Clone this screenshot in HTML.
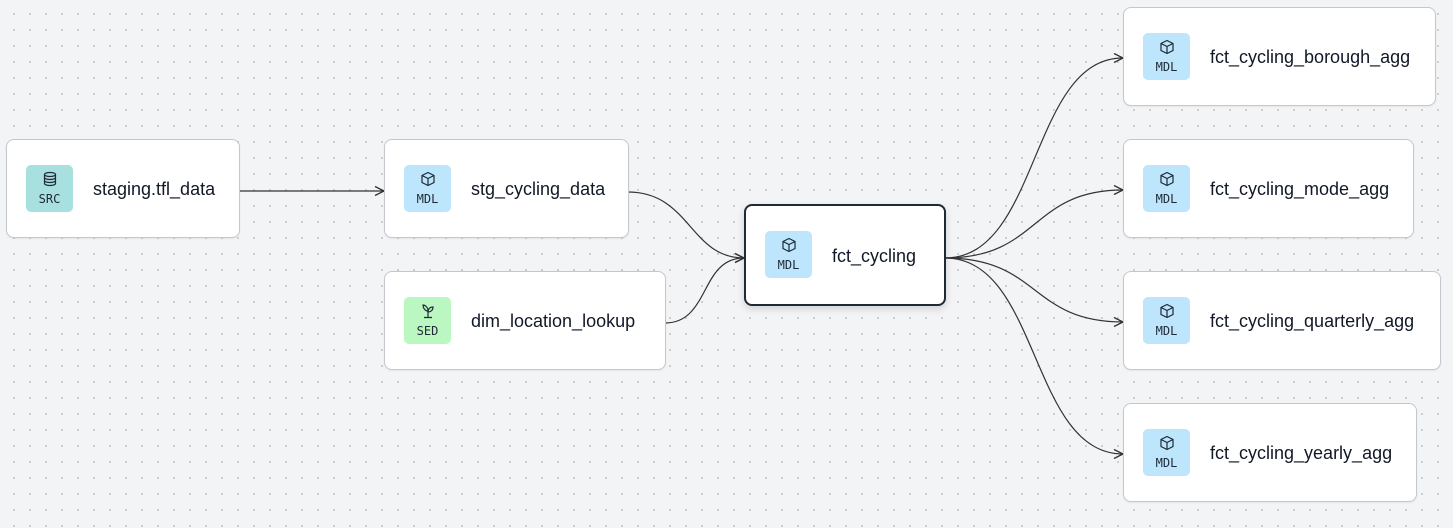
<!DOCTYPE html>
<html><head><style>
body{margin:0;width:1453px;height:528px;overflow:hidden;background:#f3f4f6;
background-image:radial-gradient(circle,#c4c7cc 0.8px,transparent 1.2px);background-size:16px 16px;background-position:6px 6px;
font-family:"Liberation Sans",sans-serif;position:relative}
.n{position:absolute;background:#fff;border:1px solid #c4c7cd;border-radius:8px;box-sizing:border-box;box-shadow:0 1px 2px rgba(0,0,0,.06)}
.b{position:absolute;left:19px;top:25px;width:47px;height:47px;border-radius:5px;display:flex;flex-direction:column;align-items:center;justify-content:center;font-family:"DejaVu Sans Mono","Liberation Mono",monospace;font-size:12px;color:#1f2937}
.b svg{margin-bottom:5px}
.t{position:absolute;left:86px;top:2px;bottom:0;display:flex;align-items:center;font-size:18px;color:#111827}
.mdl{background:#bde5fb}.src{background:#a8e0e0}.sed{background:#bbf7c0}
svg.e{position:absolute;left:0;top:0}
</style></head><body>
<svg class="e" width="1453" height="528">
<defs><marker id="a" markerWidth="12" markerHeight="12" refX="10" refY="6" orient="auto" markerUnits="userSpaceOnUse"><path d="M1,1.5 L10,6 L1,10.5" fill="none" stroke="#333" stroke-width="1.3"/></marker></defs>
<g fill="none" stroke="#333" stroke-width="1.2" marker-end="url(#a)">
<path d="M239,191 L384,191"/>
<path d="M628,192 C690,192 690,258 744,258"/>
<path d="M665,323 C710,323 700,258 744,258"/>
<path d="M945,258 C1040,258 1030,58 1123,58"/>
<path d="M945,258 C1040,258 1030,190 1123,190"/>
<path d="M945,258 C1040,258 1030,322 1123,322"/>
<path d="M945,258 C1040,258 1030,454 1123,454"/>
</g></svg>

<div class="n" style="left:6px;top:139px;width:234px;height:99px">
<div class="b src"><svg width="16" height="16" viewBox="0 0 16 16" fill="none" stroke="#1f2937" stroke-width="1.2"><ellipse cx="8" cy="3.5" rx="5.5" ry="2"/><path d="M2.5 3.5v9c0 1.1 2.5 2 5.5 2s5.5-.9 5.5-2v-9M2.5 6.5c0 1.1 2.5 2 5.5 2s5.5-.9 5.5-2M2.5 9.5c0 1.1 2.5 2 5.5 2s5.5-.9 5.5-2"/></svg>SRC</div>
<div class="t">staging.tfl_data</div></div>

<div class="n" style="left:384px;top:139px;width:245px;height:99px">
<div class="b mdl"><svg width="16" height="16" viewBox="0 0 16 16" fill="none" stroke="#1f2937" stroke-width="1.2"><path d="M8 1.5l6 3v7l-6 3-6-3v-7z M2 4.5l6 3 6-3 M8 7.5v7"/></svg>MDL</div>
<div class="t">stg_cycling_data</div></div>

<div class="n" style="left:384px;top:271px;width:282px;height:99px">
<div class="b sed"><svg width="16" height="16" viewBox="0 0 16 16" fill="none" stroke="#1f2937" stroke-width="1.2"><path d="M8 14V8M8 8C8 4 5 2 3 2c0 3 2 6 5 6zM8 9c0-3 2-5 5-5 0 3-2 5-5 5zM4 14.5h8"/></svg>SED</div>
<div class="t">dim_location_lookup</div></div>

<div class="n" style="left:744px;top:204px;width:202px;height:102px;border:2px solid #1f2937;box-shadow:0 3px 8px rgba(0,0,0,.15)">
<div class="b mdl" style="left:19px;top:25px"><svg width="16" height="16" viewBox="0 0 16 16" fill="none" stroke="#1f2937" stroke-width="1.2"><path d="M8 1.5l6 3v7l-6 3-6-3v-7z M2 4.5l6 3 6-3 M8 7.5v7"/></svg>MDL</div>
<div class="t">fct_cycling</div></div>

<div class="n" style="left:1123px;top:7px;width:313px;height:99px">
<div class="b mdl"><svg width="16" height="16" viewBox="0 0 16 16" fill="none" stroke="#1f2937" stroke-width="1.2"><path d="M8 1.5l6 3v7l-6 3-6-3v-7z M2 4.5l6 3 6-3 M8 7.5v7"/></svg>MDL</div>
<div class="t">fct_cycling_borough_agg</div></div>

<div class="n" style="left:1123px;top:139px;width:291px;height:99px">
<div class="b mdl"><svg width="16" height="16" viewBox="0 0 16 16" fill="none" stroke="#1f2937" stroke-width="1.2"><path d="M8 1.5l6 3v7l-6 3-6-3v-7z M2 4.5l6 3 6-3 M8 7.5v7"/></svg>MDL</div>
<div class="t">fct_cycling_mode_agg</div></div>

<div class="n" style="left:1123px;top:271px;width:318px;height:99px">
<div class="b mdl"><svg width="16" height="16" viewBox="0 0 16 16" fill="none" stroke="#1f2937" stroke-width="1.2"><path d="M8 1.5l6 3v7l-6 3-6-3v-7z M2 4.5l6 3 6-3 M8 7.5v7"/></svg>MDL</div>
<div class="t">fct_cycling_quarterly_agg</div></div>

<div class="n" style="left:1123px;top:403px;width:294px;height:99px">
<div class="b mdl"><svg width="16" height="16" viewBox="0 0 16 16" fill="none" stroke="#1f2937" stroke-width="1.2"><path d="M8 1.5l6 3v7l-6 3-6-3v-7z M2 4.5l6 3 6-3 M8 7.5v7"/></svg>MDL</div>
<div class="t">fct_cycling_yearly_agg</div></div>
</body></html>
